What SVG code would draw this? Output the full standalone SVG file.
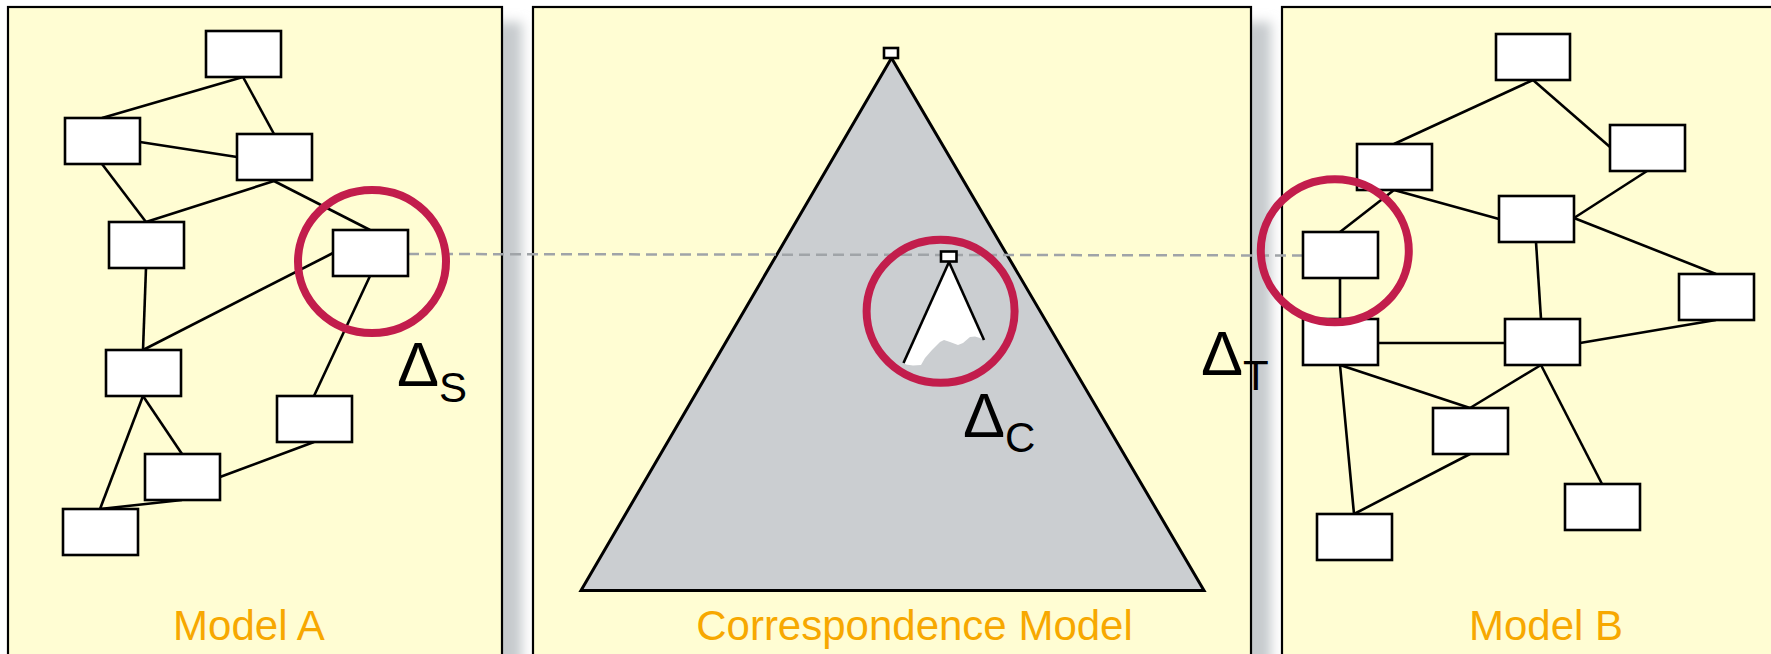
<svg xmlns="http://www.w3.org/2000/svg" width="1771" height="654" viewBox="0 0 1771 654">
<defs>
<filter id="blur" x="-50%" y="-10%" width="200%" height="120%"><feGaussianBlur stdDeviation="6"/></filter>
<style>
.panel{fill:#FFFDD3;stroke:#000;stroke-width:2.2}
.shadow{fill:#C6CACD}
.node{fill:#fff;stroke:#000;stroke-width:2.6}
.edge{stroke:#000;stroke-width:2.6;fill:none}
.ring{fill:none;stroke:#C21D4C;stroke-width:8}
.lbl{font-family:"Liberation Sans",Arial,sans-serif;font-size:42px;fill:#F7A800;text-anchor:middle}
.delta{font-family:"Liberation Sans",Arial,sans-serif;fill:#000}
</style>
</defs>
<rect width="1771" height="654" fill="#fff"/>
<g id="shadows">
<rect class="shadow" x="488" y="22" width="34" height="700" filter="url(#blur)"/>
<rect class="shadow" x="1237" y="22" width="34" height="700" filter="url(#blur)"/>
</g>
<g id="panel-a"><rect class="panel" x="8" y="7" width="494" height="700"/></g>
<g id="panel-c"><rect class="panel" x="533" y="7" width="718" height="700"/></g>
<g id="panel-b"><rect class="panel" x="1282" y="7" width="520" height="700"/></g>
<g id="triangle">
<polygon points="891.5,58 581,590.5 1204,590.5" fill="#CBCED1" stroke="#000" stroke-width="3" stroke-linejoin="miter"/>
</g>
<g id="connectors">
<line x1="408" y1="254" x2="1303" y2="255.5" stroke="#A0A4A8" stroke-width="2.5" stroke-dasharray="11 6"/>
<g class="edge">
<line x1="243" y1="77" x2="102" y2="118"/>
<line x1="243" y1="77" x2="274" y2="134"/>
<line x1="140" y1="142" x2="237" y2="157"/>
<line x1="102" y1="164" x2="146" y2="222"/>
<line x1="274" y1="181" x2="146" y2="222"/>
<line x1="274" y1="181" x2="370" y2="230"/>
<line x1="333" y1="253" x2="143" y2="350"/>
<line x1="146" y1="268" x2="143" y2="350"/>
<line x1="370" y1="276" x2="314" y2="396"/>
<line x1="143" y1="396" x2="100" y2="509"/>
<line x1="143" y1="396" x2="182" y2="454"/>
<line x1="220" y1="477" x2="314" y2="442"/>
<line x1="100" y1="509" x2="182" y2="500"/>
<line x1="1533" y1="80" x2="1394" y2="144"/>
<line x1="1533" y1="80" x2="1610" y2="147"/>
<line x1="1394" y1="190" x2="1340" y2="232"/>
<line x1="1394" y1="190" x2="1499" y2="219"/>
<line x1="1647" y1="171" x2="1574" y2="218"/>
<line x1="1574" y1="218" x2="1716" y2="274"/>
<line x1="1536" y1="242" x2="1541" y2="319"/>
<line x1="1340" y1="278" x2="1340" y2="319"/>
<line x1="1716" y1="320" x2="1580" y2="343"/>
<line x1="1378" y1="343" x2="1505" y2="343"/>
<line x1="1340" y1="365" x2="1470" y2="408"/>
<line x1="1541" y1="365" x2="1470" y2="408"/>
<line x1="1541" y1="365" x2="1602" y2="484"/>
<line x1="1340" y1="365" x2="1354" y2="514"/>
<line x1="1470" y1="454" x2="1354" y2="514"/>
</g>
</g>
<g id="model-a-nodes">
<rect id="a1" class="node" x="206" y="31" width="75" height="46"/>
<rect id="a2" class="node" x="65" y="118" width="75" height="46"/>
<rect id="a3" class="node" x="237" y="134" width="75" height="46"/>
<rect id="a4" class="node" x="109" y="222" width="75" height="46"/>
<rect id="a5" class="node" x="333" y="230" width="75" height="46"/>
<rect id="a6" class="node" x="106" y="350" width="75" height="46"/>
<rect id="a7" class="node" x="277" y="396" width="75" height="46"/>
<rect id="a8" class="node" x="145" y="454" width="75" height="46"/>
<rect id="a9" class="node" x="63" y="509" width="75" height="46"/>
</g>
<g id="model-b-nodes">
<rect id="b1" class="node" x="1496" y="34" width="74" height="46"/>
<rect id="b2" class="node" x="1357" y="144" width="75" height="46"/>
<rect id="b3" class="node" x="1610" y="125" width="75" height="46"/>
<rect id="b4" class="node" x="1499" y="196" width="75" height="46"/>
<rect id="b5" class="node" x="1303" y="232" width="75" height="46"/>
<rect id="b6" class="node" x="1679" y="274" width="75" height="46"/>
<rect id="b7" class="node" x="1303" y="319" width="75" height="46"/>
<rect id="b8" class="node" x="1505" y="319" width="75" height="46"/>
<rect id="b9" class="node" x="1433" y="408" width="75" height="46"/>
<rect id="b10" class="node" x="1565" y="484" width="75" height="46"/>
<rect id="b11" class="node" x="1317" y="514" width="75" height="46"/>
</g>
<g id="correspondence">
<rect class="node" x="884" y="48" width="14" height="10"/>
<polygon points="949,262 904,363 906,364.5 913,365.5 921,365 925,358 932,350 940,342 944,340 950,342 958,345 963,343 970,337 975,336.5 980,338 984,340" fill="#fff"/>
<line class="edge" x1="949" y1="262" x2="903.5" y2="363"/>
<line class="edge" x1="949" y1="262" x2="984" y2="340"/>
<rect class="node" x="941" y="251.5" width="15.5" height="10"/>
</g>
<g id="rings">
<ellipse class="ring" cx="372" cy="261.5" rx="74" ry="71.5"/>
<ellipse class="ring" cx="940.6" cy="311.2" rx="74" ry="71.5"/>
<ellipse class="ring" cx="1334.8" cy="250.8" rx="74" ry="71.5"/>
</g>
<g id="labels">
<text class="delta" x="397" y="386" font-size="63">Δ<tspan font-size="42" y="402">S</tspan></text>
<text class="delta" x="963" y="437" font-size="63">Δ<tspan font-size="42" y="452">C</tspan></text>
<text class="delta" x="1201" y="375" font-size="63">Δ<tspan font-size="42" y="390">T</tspan></text>
<text class="lbl" x="249" y="640">Model A</text>
<text class="lbl" x="914.5" y="640">Correspondence Model</text>
<text class="lbl" x="1546" y="640">Model B</text>
</g>
</svg>
